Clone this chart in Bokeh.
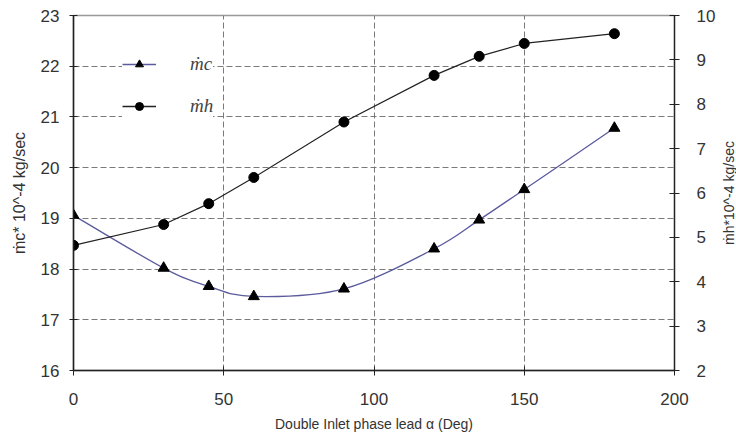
from bokeh.plotting import figure
from bokeh.layouts import row
from bokeh.models import Range1d, LinearAxis, FixedTicker, Legend, LegendItem, ColumnDataSource, Title
from bokeh.embed import file_html
from bokeh.resources import INLINE

# ---- data ----
alpha = [0, 30, 45, 60, 90, 120, 135, 150, 180]
m_c = [19.06, 18.02, 17.66, 17.46, 17.61, 18.40, 18.97, 19.57, 20.78]   # left axis
m_h = [4.82, 5.29, 5.76, 6.35, 7.60, 8.65, 9.08, 9.37, 9.59]          # right axis
x_ticks = [0, 50, 100, 150, 200]
left_ticks = [16, 17, 18, 19, 20, 21, 22, 23]
right_ticks = [2, 3, 4, 5, 6, 7, 8, 9, 10]
right_label = "ṁh*10^-4 kg/sec"

FONT = "Liberation Sans"

p = figure(width=718, height=434, output_backend="svg", toolbar_location=None,
           x_range=Range1d(0, 200), y_range=Range1d(16, 23),
           min_border_left=73, min_border_right=43, min_border_top=15, min_border_bottom=62)
p.extra_y_ranges = {"h": Range1d(2, 10)}
p.background_fill_color = "white"
p.border_fill_color = "white"
p.outline_line_color = "#999999"
p.outline_line_width = 1.5

# grids
p.xgrid.ticker = FixedTicker(ticks=[50, 100, 150])
p.ygrid.ticker = FixedTicker(ticks=left_ticks[1:-1])
for g in (p.xgrid, p.ygrid):
    g.grid_line_color = "#7a7a7a"
    g.grid_line_dash = "6 3"
    g.grid_line_width = 1

# x axis
xa = p.xaxis[0]
xa.ticker = FixedTicker(ticks=x_ticks)
xa.axis_label = "Double Inlet phase lead α (Deg)"
xa.axis_label_text_font = FONT
xa.axis_label_text_font_size = "14px"
xa.axis_label_text_font_style = "normal"
xa.axis_label_text_color = "#333333"
xa.axis_label_standoff = 8
xa.major_label_text_font = FONT
xa.major_label_text_font_size = "17px"
xa.major_label_text_color = "#333333"
xa.major_label_standoff = 17
xa.major_tick_in = 4
xa.major_tick_out = 5
xa.minor_tick_line_color = None
xa.axis_line_color = "#222222"
xa.axis_line_width = 1.3
xa.major_tick_line_color = "#222222"

# left axis
ya = p.yaxis[0]
ya.ticker = FixedTicker(ticks=left_ticks)
ya.axis_label = "ṁc* 10^-4 kg/sec"
ya.axis_label_text_font = FONT
ya.axis_label_text_font_size = "16px"
ya.axis_label_text_font_style = "normal"
ya.axis_label_text_color = "#333333"
ya.axis_label_standoff = 10
ya.major_label_text_font = FONT
ya.major_label_text_font_size = "17px"
ya.major_label_text_color = "#333333"
ya.major_label_standoff = 10
ya.major_tick_in = 4
ya.major_tick_out = 4
ya.minor_tick_line_color = None
ya.axis_line_color = "#222222"
ya.axis_line_width = 1.5
ya.major_tick_line_color = "#222222"

# right axis
ra = LinearAxis(y_range_name="h", ticker=FixedTicker(ticks=right_ticks))
ra.major_label_text_font = FONT
ra.major_label_text_font_size = "17px"
ra.major_label_text_color = "#333333"
ra.major_label_standoff = 17
ra.major_tick_in = 5
ra.major_tick_out = 5
ra.minor_tick_line_color = None
ra.axis_line_color = "#222222"
ra.axis_line_width = 1.3
ra.major_tick_line_color = "#222222"
p.add_layout(ra, "right")

# smoothed m_c curve (Catmull-Rom style Bezier control points computed from data)
n = len(alpha)
x0, y0, x1, y1, cx0, cy0, cx1, cy1 = [], [], [], [], [], [], [], []
for i in range(n - 1):
    im1 = max(i - 1, 0)
    ip2 = min(i + 2, n - 1)
    x0.append(alpha[i]); y0.append(m_c[i])
    x1.append(alpha[i + 1]); y1.append(m_c[i + 1])
    cx0.append(alpha[i] + (alpha[i + 1] - alpha[im1]) / 6.0)
    cy0.append(m_c[i] + (m_c[i + 1] - m_c[im1]) / 6.0)
    cx1.append(alpha[i + 1] - (alpha[ip2] - alpha[i]) / 6.0)
    cy1.append(m_c[i + 1] - (m_c[ip2] - m_c[i]) / 6.0)
bsrc = ColumnDataSource(dict(x0=x0, y0=y0, x1=x1, y1=y1, cx0=cx0, cy0=cy0, cx1=cx1, cy1=cy1))
c_color = "#5b5b9e"
p.bezier(x0="x0", y0="y0", x1="x1", y1="y1", cx0="cx0", cy0="cy0", cx1="cx1", cy1="cy1",
         source=bsrc, line_color=c_color, line_width=1.3)
c_mark = p.scatter(alpha, m_c, marker="triangle", size=11, fill_color="black", line_color="black")

h_line = p.line(alpha, m_h, y_range_name="h", line_color="#222222", line_width=1.2)
h_mark = p.scatter(alpha, m_h, y_range_name="h", marker="circle", size=10,
                   fill_color="black", line_color="black")

# legend proxies (line + marker)
lc = p.line([None], [None], line_color=c_color, line_width=1.5)
lh = p.line([None], [None], line_color="#222222", line_width=1.5)
legend = Legend(items=[LegendItem(label="ṁc", renderers=[lc, c_mark]),
                       LegendItem(label="ṁh", renderers=[lh, h_mark])],
                location=(49, 253))
legend.margin = 0
legend.padding = 5
legend.spacing = 20
legend.glyph_width = 34
legend.glyph_height = 20
legend.label_height = 20
legend.label_standoff = 34
legend.label_text_font = "Liberation Serif"
legend.label_text_font_style = "italic"
legend.label_text_font_size = "19px"
legend.border_line_color = None
legend.background_fill_color = "white"
legend.background_fill_alpha = 1.0
p.add_layout(legend)

# narrow strip carrying the right-hand axis title (reads bottom to top)
p2 = figure(width=18, height=434, output_backend="svg", toolbar_location=None,
            x_axis_location=None, y_axis_location=None,
            min_border_left=0, min_border_right=0, min_border_top=15, min_border_bottom=62)
p2.grid.visible = False
p2.outline_line_color = None
p2.background_fill_color = "white"
p2.border_fill_color = "white"
p2.add_layout(Title(text=right_label, align="center", standoff=0, offset=-45,
                    text_font=FONT, text_font_size="14px", text_font_style="normal",
                    text_color="#333333"), "left")

layout = row(p, p2, spacing=0)
open("out.html", "w").write(file_html(layout, INLINE))
